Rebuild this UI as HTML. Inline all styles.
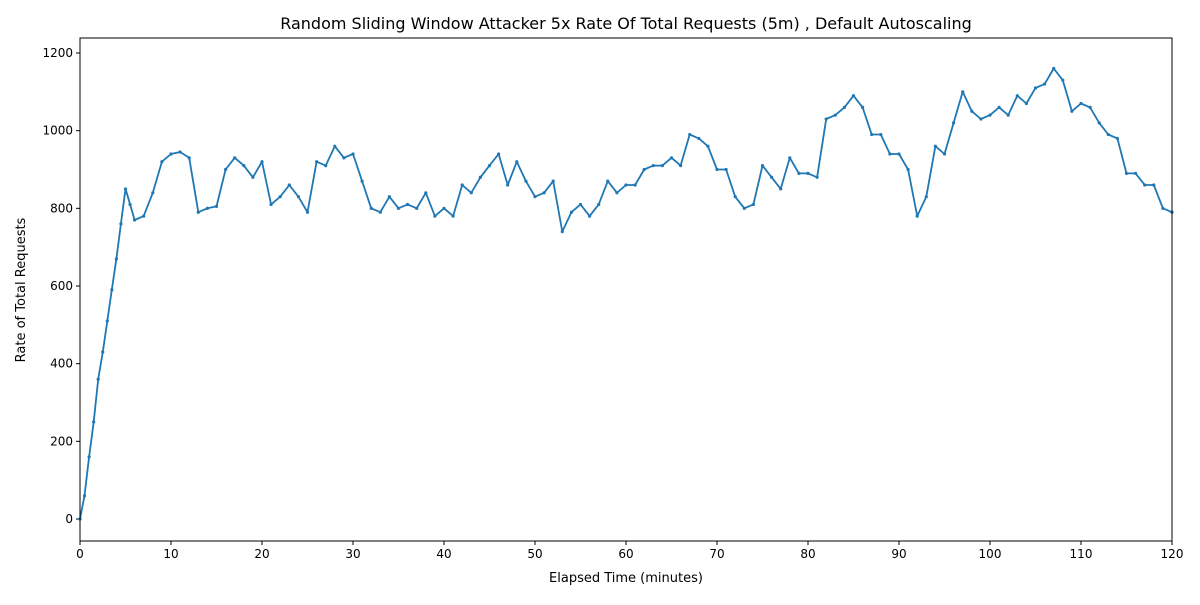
<!DOCTYPE html>
<html><head><meta charset="utf-8"><style>
body{margin:0;background:#fff;font-family:"Liberation Sans","DejaVu Sans",sans-serif}
</style></head><body>
<svg id="chart" width="1200" height="600" font-family="DejaVu Sans, Liberation Sans, sans-serif">
<rect width="1200" height="600" fill="#fff"/>
<text x="626" y="29" font-size="16" text-anchor="middle">Random Sliding Window Attacker 5x Rate Of Total Requests (5m) , Default Autoscaling</text>
<text x="626" y="582" font-size="13" text-anchor="middle">Elapsed Time (minutes)</text>
<text transform="translate(25,290) rotate(-90)" font-size="13" text-anchor="middle">Rate of Total Requests</text>
<g id="axes"></g>
<g id="series"></g>
<rect x="80" y="38" width="1092" height="503" fill="none" stroke="#000" stroke-width="1"/>
</svg>
<script>
const xTicks=[0,10,20,30,40,50,60,70,80,90,100,110,120];
const yTicks=[0,200,400,600,800,1000,1200];
const times=[0,0.5,1,1.5,2,2.5,3,3.5,4,4.5,5,5.5,6,7,8,9,10,11,12,13,14,15,16,17,18,19,20,21,22,23,24,25,26,27,28,29,30,31,32,33,34,35,36,37,38,39,40,41,42,43,44,45,46,47,48,49,50,51,52,53,54,55,56,57,58,59,60,61,62,63,64,65,66,67,68,69,70,71,72,73,74,75,76,77,78,79,80,81,82,83,84,85,86,87,88,89,90,91,92,93,94,95,96,97,98,99,100,101,102,103,104,105,106,107,108,109,110,111,112,113,114,115,116,117,118,119,120];
const requests=[0,60,160,250,360,430,510,590,670,760,850,810,770,780,840,920,940,945,930,790,800,805,900,930,910,880,920,810,830,860,830,790,920,910,960,930,940,870,800,790,830,800,810,800,840,780,800,780,860,840,880,910,940,860,920,870,830,840,870,740,790,810,780,810,870,840,860,860,900,910,910,930,910,990,980,960,900,900,830,800,810,910,880,850,930,890,890,880,1030,1040,1060,1090,1060,990,990,940,940,900,780,830,960,940,1020,1100,1050,1030,1040,1060,1040,1090,1070,1110,1120,1160,1130,1050,1070,1060,1020,990,980,890,890,860,860,800,790];
const X0=80,X1=1172,Y0=541,Y1=38,xmin=0,xmax=120,ymin=-56.6,ymax=1238.6;
const sx=v=>X0+(v-xmin)/(xmax-xmin)*(X1-X0);
const sy=v=>Y0-(v-ymin)/(ymax-ymin)*(Y0-Y1);
const NS='http://www.w3.org/2000/svg';
const axes=document.getElementById('axes'),series=document.getElementById('series');
function mk(t,a,p){const e=document.createElementNS(NS,t);for(const k in a)e.setAttribute(k,a[k]);p.appendChild(e);return e;}
xTicks.forEach(v=>{
  const l=mk('line',{x1:sx(v),x2:sx(v),y1:Y0,y2:Y0+4,stroke:'#000'},axes);
  
  
  const t=mk('text',{x:sx(v),y:Y0+17,'font-size':12,'text-anchor':'middle'},axes);t.textContent=v;
  
  
});
yTicks.forEach(v=>{
  const l=mk('line',{x1:X0-4,x2:X0,y1:sy(v),y2:sy(v),stroke:'#000'},axes);
  
  
  const t=mk('text',{x:X0-7,y:sy(v)+4,'font-size':12,'text-anchor':'end'},axes);t.textContent=v;
  
  
});
const pts=times.map((t,i)=>sx(t).toFixed(1)+','+sy(requests[i]).toFixed(1)).join(' ');
const pl=mk('polyline',{points:pts,fill:'none',stroke:'#1f77b4','stroke-width':1.8,'stroke-linejoin':'round'},series);


times.forEach((t,i)=>{
  const c=mk('circle',{cx:sx(t),cy:sy(requests[i]),r:1.6,fill:'#1f77b4'},series);
  
  
});
</script>
</body></html>
